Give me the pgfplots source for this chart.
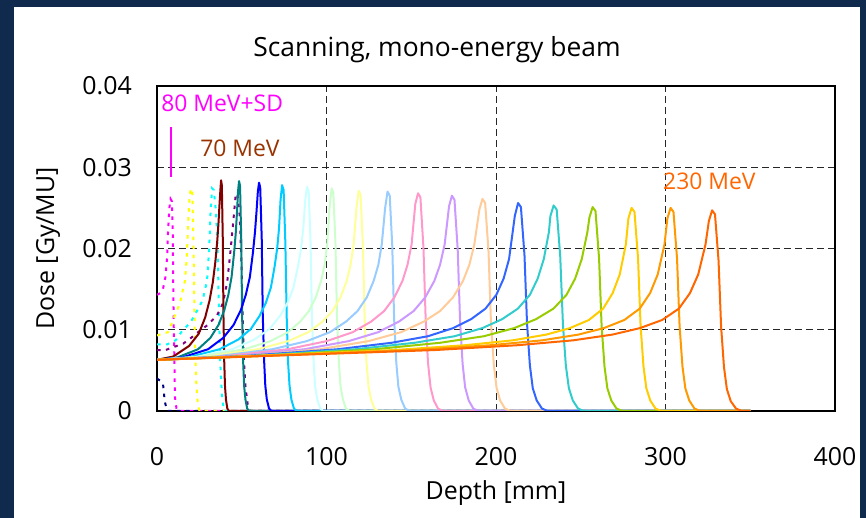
\documentclass[border=0pt]{standalone}
\usepackage{fontspec}
\setmainfont{Open Sans}
\usepackage{pgfplots}
\pgfplotsset{compat=1.18}

\definecolor{navyframe}{RGB}{16,42,78}
\definecolor{xnavy}{HTML}{000080}
\definecolor{xmagenta}{HTML}{FF00FF}
\definecolor{xyellow}{HTML}{FFFF00}
\definecolor{xcyan}{HTML}{00FFFF}
\definecolor{xviolet}{HTML}{800080}
\definecolor{xdarkred}{HTML}{800000}
\definecolor{xteal}{HTML}{008080}
\definecolor{xblue}{HTML}{0000FF}
\definecolor{xsky}{HTML}{00CCFF}
\definecolor{xltturq}{HTML}{CCFFFF}
\definecolor{xltgreen}{HTML}{CCFFCC}
\definecolor{xltyellow}{HTML}{FFFF99}
\definecolor{xpaleblue}{HTML}{99CCFF}
\definecolor{xrose}{HTML}{FF99CC}
\definecolor{xlavender}{HTML}{CC99FF}
\definecolor{xtan}{HTML}{FFCC99}
\definecolor{xltblue}{HTML}{3366FF}
\definecolor{xaqua}{HTML}{33CCCC}
\definecolor{xlime}{HTML}{99CC00}
\definecolor{xgold}{HTML}{FFCC00}
\definecolor{xltorange}{HTML}{FF9900}
\definecolor{xorange}{HTML}{FF6600}
\definecolor{xbrown}{HTML}{993300}

\begin{document}
\begin{tikzpicture}
\useasboundingbox (0,0) rectangle (866bp,518bp);
\fill[navyframe] (0,0) rectangle (866bp,518bp);
\fill[white] (14bp,0) rectangle (860bp,511bp);

\begin{axis}[
  at={(157bp,107bp)}, anchor=south west,
  scale only axis, width=678bp, height=325bp,
  xmin=0, xmax=400, ymin=0, ymax=0.04,
  xtick={0,100,200,300,400},
  ytick={0,0.01,0.02,0.03,0.04},
  xticklabels={0,100,200,300,400},
  yticklabels={0,0.01,0.02,0.03,0.04},
  scaled y ticks=false,
  major tick length=0pt,
  grid=major,
  major grid style={black!85, line width=0.9bp, dash pattern=on 7bp off 4bp},
  axis line style={black, line width=1.2bp},
  tick label style={font=\fontsize{25}{30}\selectfont, inner sep=0pt},
  /pgf/number format/assume math mode=true,
  xticklabel shift=36bp,
  yticklabel shift=25bp,
  sol/.style={line width=2bp, line join=round},
  dot/.style={line width=2bp, dash pattern=on 3.5bp off 5.5bp},
]
% range-shifted beams (dotted)
\addplot[dot, xnavy] coordinates {(0,.0040)(2,.0037)(3.5,.0034)(4,.0025)(4.4,.0015)(5,.0008)(6.5,0)(350,0)};
\addplot[dot, xmagenta] coordinates {(0,.0143)(2,.0145)(3.5,.0150)(5,.0165)(6,.0190)(6.5,.0220)(7.3,.0250)(8,.0261)(8.8,.0258)(9.3,.0220)(9.6,.0150)(9.9,.0100)(10.3,.0060)(10.6,.0017)(11.5,.0003)(12.5,0)(350,0)};
\addplot[dot, xyellow] coordinates {(0,.0093)(6.5,.0097)(8.3,.0106)(10.6,.0118)(13.6,.0133)(14.8,.0145)(16.5,.0160)(17.6,.0190)(18.3,.0230)(19.3,.0265)(20.0,.0274)(20.8,.0270)(21.4,.0220)(21.9,.0150)(22.4,.0080)(23.0,.0040)(24.0,.0010)(25.0,0)(350,0)};
\addplot[dot, xcyan] coordinates {(0,.0082)(6,.0082)(11,.0087)(15.3,.0100)(19.5,.0108)(25.4,.0130)(27,.0137)(29.5,.0160)(30.8,.0200)(31.6,.0245)(32.5,.0274)(33.5,.0272)(34.8,.0245)(35.8,.0195)(36.6,.0120)(37.3,.0060)(38.3,.0020)(39.5,0)(350,0)};
\addplot[dot, xviolet] coordinates {(0,.0075)(5,.0075)(15.5,.0083)(19.5,.0089)(26,.0100)(30,.0106)(35.5,.0118)(39,.0133)(41.5,.0160)(43.5,.0200)(45.3,.0240)(46.5,.0268)(47.5,.0266)(48.8,.0240)(49.8,.0185)(50.5,.0120)(51.2,.0065)(52.2,.0030)(53.5,.0008)(55,0)(350,0)};
% 70 ... 230 MeV
\addplot[sol, xdarkred] coordinates {(0,.0063)(9.5,.0067)(18.9,.0080)(24.6,.0095)(28.4,.0115)(31.0,.0136)(32.9,.0158)(34.4,.0183)(35.5,.0208)(36.3,.0232)(36.9,.0255)(37.4,.0272)(37.8,.0284)
  (38.25,.0278)(38.8,.0213)(39.2,.0119)(39.65,.0062)(40.1,.0031)(40.7,.0014)(41.5,.0003)(42.4,0)(350,0)};
\addplot[sol, xteal] coordinates {(0,.0063)(12.1,.0066)(24.2,.0076)(31.5,.0090)(36.3,.0106)(39.7,.0124)(42.1,.0143)(44.0,.0165)(45.5,.0195)(46.5,.0220)(47.2,.0245)(47.8,.0270)(48.4,.0283)
  (49.0,.0277)(49.7,.0212)(50.2,.0119)(50.8,.0062)(51.4,.0031)(52.2,.0014)(53.2,.0003)(54.4,0)(350,0)};
\addplot[sol, xblue] coordinates {(0,.0063)(15.1,.0066)(30.1,.0076)(39.1,.0090)(45.2,.0106)(49.4,.0124)(52.4,.0143)(54.8,.0165)(56.6,.0195)(57.8,.0220)(58.7,.0245)(59.5,.0270)(60.2,.0281)
  (60.9,.0275)(61.8,.0211)(62.4,.0118)(63.2,.0062)(63.9,.0031)(64.8,.0014)(66.1,.0003)(67.6,0)(350,0)};
\addplot[sol, xsky] coordinates {(0,.0063)(18.5,.0066)(36.9,.0076)(48.0,.0088)(55.4,.0101)(60.5,.0117)(64.2,.0133)(67.2,.0152)(69.4,.0178)(70.9,.0200)(72.0,.0225)(72.9,.0260)(73.8,.0278)
  (74.7,.0272)(75.7,.0209)(76.5,.0117)(77.3,.0061)(78.2,.0031)(79.3,.0014)(80.8,.0003)(82.5,0)(350,0)};
\addplot[sol, xltturq] coordinates {(0,.0063)(22.1,.0066)(44.3,.0076)(57.5,.0088)(66.4,.0101)(72.6,.0117)(77.0,.0133)(80.5,.0152)(83.2,.0178)(85.0,.0200)(86.3,.0225)(87.5,.0260)(88.5,.0276)
  (89.5,.0270)(90.6,.0207)(91.4,.0116)(92.4,.0061)(93.3,.0030)(94.6,.0014)(96.3,.0003)(98.2,0)(350,0)};
\addplot[sol, xltgreen] coordinates {(0,.0063)(25.8,.0067)(51.5,.0076)(67.0,.0086)(77.3,.0097)(84.5,.0110)(89.6,.0123)(93.7,.0140)(96.8,.0160)(98.9,.0180)(100.4,.0205)(101.8,.0250)(103,.0274)
  (104.0,.0269)(105.3,.0206)(106.2,.0115)(107.3,.0060)(108.3,.0030)(109.7,.0014)(111.5,.0003)(113.6,0)(350,0)};
\addplot[sol, xltyellow] coordinates {(0,.0063)(29.8,.0067)(59.5,.0076)(77.4,.0086)(89.3,.0097)(97.6,.0110)(103.5,.0123)(108.3,.0140)(111.9,.0160)(114.2,.0180)(116.0,.0205)(117.7,.0250)(119,.0271)
  (120.1,.0266)(121.5,.0203)(122.5,.0114)(123.6,.0060)(124.8,.0030)(126.3,.0014)(128.3,.0003)(130.5,0)(350,0)};
\addplot[sol, xpaleblue] coordinates {(0,.0063)(34,.0067)(68,.0076)(88.4,.0086)(102,.0097)(111.5,.0110)(118.3,.0123)(123.8,.0140)(127.8,.0160)(130.6,.0180)(132.6,.0205)(134.6,.0250)(136,.0270)
  (137.3,.0265)(138.8,.0203)(139.9,.0113)(141.2,.0059)(142.4,.0030)(144.1,.0014)(146.4,.0003)(148.9,0)(350,0)};
\addplot[sol, xrose] coordinates {(0,.0063)(38.5,.0067)(77,.0076)(100.1,.0086)(115.5,.0097)(126.3,.0110)(134.0,.0123)(140.1,.0140)(144.8,.0160)(147.8,.0180)(150.2,.0205)(152.4,.0255)(154,.0268)
  (155.4,.0263)(157.2,.0201)(158.5,.0113)(159.9,.0059)(161.4,.0029)(163.3,.0013)(165.8,.0003)(168.7,0)(350,0)};
\addplot[sol, xlavender] coordinates {(0,.0063)(43.5,.0067)(87,.0076)(113.1,.0086)(130.5,.0097)(142.7,.0110)(151.4,.0123)(158.3,.0140)(163.6,.0160)(167.0,.0180)(169.7,.0205)(172.3,.0252)(174,.0265)
  (175.5,.0260)(177.4,.0199)(178.8,.0111)(180.3,.0058)(181.8,.0029)(183.9,.0013)(186.6,.0003)(189.6,0)(350,0)};
\addplot[sol, xtan] coordinates {(0,.0063)(48,.0067)(96,.0076)(124.8,.0086)(144,.0097)(157.4,.0110)(167.0,.0123)(174.7,.0140)(180.5,.0160)(184.3,.0180)(187.2,.0205)(190.2,.0248)(192,.0261)
  (193.6,.0256)(195.6,.0196)(197.0,.0110)(198.7,.0057)(200.3,.0029)(202.4,.0013)(205.3,.0003)(208.6,0)(350,0)};
\addplot[sol, xltblue] coordinates {(0,.0063)(53.3,.0068)(106.5,.0076)(138.5,.0084)(159.8,.0092)(174.7,.0102)(185.3,.0113)(193.8,.0126)(200.2,.0143)(204.5,.0163)(207.7,.0187)(211.1,.0240)(213,.0256)
  (214.7,.0251)(216.8,.0192)(218.3,.0108)(220.0,.0056)(221.7,.0028)(224.0,.0013)(227.1,.0003)(230.5,0)(350,0)};
\addplot[sol, xaqua] coordinates {(0,.0063)(58.5,.0068)(117,.0076)(152.1,.0084)(175.5,.0092)(191.9,.0102)(203.6,.0113)(212.9,.0126)(220.0,.0143)(224.6,.0163)(228.2,.0187)(231.2,.0220)(232.1,.0240)(234,.0253)
  (235.8,.0248)(237.9,.0190)(239.5,.0106)(241.2,.0056)(243.0,.0028)(245.3,.0013)(248.4,.0003)(251.9,0)(350,0)};
\addplot[sol, xlime] coordinates {(0,.0063)(64.3,.0068)(128.5,.0076)(167.1,.0084)(192.8,.0092)(210.7,.0102)(223.6,.0113)(233.9,.0126)(241.6,.0143)(246.7,.0163)(250.6,.0187)(253.9,.0220)(255.1,.0238)(257,.0251)
  (258.7,.0246)(260.8,.0188)(262.3,.0105)(264.0,.0055)(265.7,.0028)(268.0,.0013)(271.1,.0003)(274.5,0)(350,0)};
\addplot[sol, xgold] coordinates {(0,.0063)(70,.0069)(140,.0075)(182,.0081)(210,.0087)(229.6,.0094)(243.6,.0102)(254.8,.0112)(263.2,.0126)(268.8,.0145)(273,.0168)(276.6,.0205)(278.1,.0237)(280,.0250)
  (281.7,.0245)(283.8,.0188)(285.3,.0105)(287.0,.0055)(288.7,.0028)(291.0,.0013)(294.1,.0003)(297.5,0)(350,0)};
\addplot[sol, xltorange] coordinates {(0,.0063)(75.8,.0069)(151.5,.0075)(197,.0081)(227.3,.0087)(248.5,.0094)(263.6,.0102)(275.7,.0112)(284.8,.0126)(290.9,.0145)(295.4,.0168)(299.4,.0205)(301.1,.0237)(303,.0250)
  (304.7,.0245)(306.8,.0188)(308.3,.0105)(310.0,.0055)(311.7,.0028)(314.0,.0013)(317.1,.0003)(320.5,0)(350,0)};
\addplot[sol, xorange] coordinates {(0,.0063)(81.9,.0069)(163.8,.0075)(212.9,.0081)(245.6,.0087)(268.6,.0094)(284.9,.0102)(298.0,.0112)(307.9,.0126)(314.4,.0145)(319.3,.0168)(323.6,.0205)(325.6,.0234)(327.5,.0247)
  (329.2,.0242)(331.3,.0185)(332.8,.0104)(334.5,.0054)(336.2,.0027)(338.5,.0012)(341.6,.0003)(345.0,0)(350,0)};
% marker for the range-shifted beam
\addplot[xmagenta, line width=1.8bp] coordinates {(8.3,.0288)(8.3,.0350)};
\node[anchor=west, inner sep=0pt, text=xmagenta, font=\fontsize{23}{28}\selectfont] at (axis cs:2.4,0.0379) {80 MeV+SD};
\node[anchor=west, inner sep=0pt, text=xbrown, font=\fontsize{23}{28}\selectfont] at (axis cs:25.4,0.0323) {70 MeV};
\node[anchor=west, inner sep=0pt, text=xorange, font=\fontsize{23}{28}\selectfont] at (axis cs:298.5,0.0283) {230 MeV};
\end{axis}

\node[anchor=base, font=\fontsize{26.5}{32}\selectfont] at (437bp,461bp) {Scanning, mono-energy beam};
\node[font=\fontsize{25}{30}\selectfont] at (496bp,25bp) {Depth [mm]};
\node[rotate=90, font=\fontsize{25}{30}\selectfont] at (48bp,269.5bp) {Dose [Gy/MU]};
\end{tikzpicture}
\end{document}
